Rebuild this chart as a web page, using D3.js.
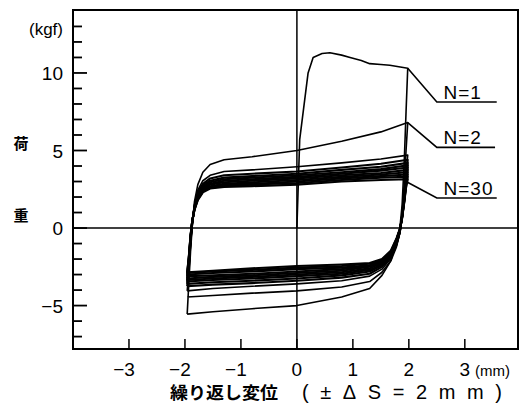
<!DOCTYPE html>
<html>
<head>
<meta charset="utf-8">
<script src="https://cdn.jsdelivr.net/npm/d3@7"></script>
<style>
  body { margin: 0; background: #fff; }
  text { font-family: "Liberation Sans", Arial, sans-serif; fill: #000; }
  .jp { font-family: "Noto Sans CJK JP", sans-serif; font-weight: bold; }
</style>
</head>
<body>
<div id="chart"></div>
<script>
// x grid of the reload branch (from -2 towards +2) and of the unload branch (from +2 towards -2)
let upX = [-1.96, -1.93, -1.9, -1.87, -1.83, -1.77, -1.68, -1.55, -1.3, -0.8, 0, 0.8, 1.5, 1.98];
let loX = [1.98, 1.95, 1.92, 1.88, 1.84, 1.78, 1.68, 1.52, 1.3, 0.8, 0, -0.8, -1.5, -1.96];

// first loading (N=1), from the origin
let firstX = [0, 0.05, 0.2, 0.29, 0.45, 0.59, 0.8, 0.95, 1.15, 1.3, 1.5, 1.66, 1.82, 1.98];
let firstF = [0, 5.7, 10.0, 11.0, 11.25, 11.3, 11.15, 11.0, 10.8, 10.6, 10.55, 10.5, 10.4, 10.3];

let cycles = [1, 2, 3, 4, 5, 6, 8, 11, 15, 20, 25, 30];

// load (kgf) on the reload branch, per cycle (cycle 1 uses the first loading)
let reload = [
  null,
  [-5.55, -3.5, -1.5, 0.1, 1.7, 2.8, 3.6, 4.1, 4.4, 4.6, 5.0, 5.6, 6.2, 6.8],
  [-4.05, -2.8, -1.0, 0.3, 1.5, 2.45, 3.05, 3.4, 3.65, 3.75, 3.95, 4.2, 4.45, 4.7],
  [-3.75, -2.6, -0.9, 0.3, 1.4, 2.3, 2.85, 3.2, 3.4, 3.5, 3.65, 3.9, 4.15, 4.4],
  [-3.6, -2.4, -0.8, 0.35, 1.35, 2.2, 2.75, 3.05, 3.25, 3.35, 3.5, 3.75, 3.95, 4.2],
  [-3.45, -2.3, -0.7, 0.4, 1.3, 2.1, 2.65, 2.95, 3.15, 3.25, 3.4, 3.6, 3.8, 4.05],
  [-3.35, -2.2, -0.7, 0.4, 1.3, 2.05, 2.55, 2.85, 3.05, 3.15, 3.3, 3.5, 3.7, 3.9],
  [-3.25, -2.1, -0.6, 0.4, 1.25, 2.0, 2.5, 2.8, 2.95, 3.05, 3.2, 3.4, 3.55, 3.75],
  [-3.1, -2.0, -0.6, 0.45, 1.25, 1.95, 2.45, 2.7, 2.85, 2.95, 3.1, 3.3, 3.45, 3.6],
  [-3.0, -1.9, -0.5, 0.45, 1.2, 1.9, 2.4, 2.65, 2.8, 2.85, 3.0, 3.2, 3.35, 3.45],
  [-2.9, -1.85, -0.5, 0.45, 1.2, 1.85, 2.35, 2.6, 2.7, 2.8, 2.9, 3.1, 3.25, 3.3],
  [-2.85, -1.8, -0.45, 0.45, 1.15, 1.8, 2.3, 2.55, 2.65, 2.7, 2.8, 3.0, 3.1, 3.15]
];

// load (kgf) on the unload branch, per cycle
let unload = [
  [10.3, 7.5, 4.5, 1.5, 0.0, -0.7, -2.1, -3.05, -3.9, -4.45, -5.0, -5.2, -5.4, -5.55],
  [6.8, 5.0, 3.0, 1.0, -0.3, -1.2, -2.1, -2.85, -3.45, -3.8, -4.05, -4.2, -4.35, -4.45],
  [4.7, 3.6, 2.3, 0.8, -0.3, -1.1, -1.95, -2.65, -3.1, -3.4, -3.6, -3.75, -3.9, -4.05],
  [4.4, 3.4, 2.2, 0.8, -0.25, -1.05, -1.85, -2.5, -2.95, -3.2, -3.4, -3.55, -3.65, -3.75],
  [4.2, 3.3, 2.1, 0.8, -0.2, -1.0, -1.8, -2.4, -2.8, -3.05, -3.25, -3.4, -3.5, -3.6],
  [4.05, 3.2, 2.0, 0.75, -0.2, -0.95, -1.75, -2.35, -2.7, -2.95, -3.1, -3.25, -3.35, -3.45],
  [3.9, 3.1, 1.95, 0.75, -0.15, -0.9, -1.7, -2.25, -2.6, -2.85, -3.0, -3.15, -3.25, -3.35],
  [3.75, 3.0, 1.9, 0.7, -0.15, -0.85, -1.65, -2.2, -2.5, -2.75, -2.9, -3.05, -3.15, -3.25],
  [3.6, 2.9, 1.85, 0.7, -0.1, -0.8, -1.6, -2.15, -2.45, -2.65, -2.8, -2.95, -3.05, -3.1],
  [3.45, 2.8, 1.8, 0.7, -0.1, -0.75, -1.55, -2.1, -2.4, -2.55, -2.65, -2.8, -2.9, -3.0],
  [3.3, 2.7, 1.75, 0.65, -0.1, -0.7, -1.5, -2.05, -2.3, -2.45, -2.55, -2.7, -2.8, -2.9],
  [3.15, 2.6, 1.7, 0.65, -0.05, -0.65, -1.45, -2.0, -2.25, -2.35, -2.45, -2.6, -2.75, -2.85]
];

// leader lines for the cycle labels: [start x, start f, knee x, f at label, end x]
let labelNames = ["N=1", "N=2", "N=30"];
let labelLeaders = [
  [1.98, 10.3, 2.5, 8.13, 3.57],
  [1.98, 6.8, 2.5, 5.2, 3.54],
  [1.9, 3.1, 2.5, 1.94, 3.57]
];

let xTicks = [-3, -2, -1, 0, 1, 2, 3];
let yMajor = [-5, 0, 5, 10];
let yMinor = d3.range(-7, 14);

let width = 530, height = 405;
let margin = {left: 73, right: 12, top: 10, bottom: 56};

let svg = d3.select("#chart").append("svg")
    .attr("width", width)
    .attr("height", height);

let x = d3.scaleLinear().domain([-4, 3.95]).range([margin.left, width - margin.right]);
let y = d3.scaleLinear().domain([-7.8, 14.06]).range([height - margin.bottom, margin.top]);

let line = d3.line()
    .x(function(d){ return x(d[0]); })
    .y(function(d){ return y(d[1]); })
    .curve(d3.curveLinear);

let plot = svg.append("g");

// frame
plot.append("rect")
    .attr("x", x(-4)).attr("y", y(14.06))
    .attr("width", x(3.95) - x(-4)).attr("height", y(-7.8) - y(14.06))
    .attr("fill", "none").attr("stroke", "#000").attr("stroke-width", 2);

// zero lines
plot.append("line")
    .attr("x1", x(0)).attr("x2", x(0)).attr("y1", y(14.06)).attr("y2", y(-7.8))
    .attr("stroke", "#000").attr("stroke-width", 1.5);
plot.append("line")
    .attr("x1", x(-4)).attr("x2", x(3.95)).attr("y1", y(0)).attr("y2", y(0))
    .attr("stroke", "#000").attr("stroke-width", 1.5);

// y ticks (inside)
plot.selectAll(".ytick").data(yMinor).enter().append("line")
    .attr("x1", x(-4))
    .attr("x2", function(d){ return x(-4) + (yMajor.indexOf(d) >= 0 ? 14 : 9); })
    .attr("y1", function(d){ return y(d); })
    .attr("y2", function(d){ return y(d); })
    .attr("stroke", "#000").attr("stroke-width", 1.8);

// x ticks (inside)
plot.selectAll(".xtick").data(xTicks).enter().append("line")
    .attr("x1", function(d){ return x(d); })
    .attr("x2", function(d){ return x(d); })
    .attr("y1", y(-7.8))
    .attr("y2", y(-7.8) - 10)
    .attr("stroke", "#000").attr("stroke-width", 1.5);

// hysteresis loops
let loops = plot.append("g").attr("fill", "none").attr("stroke", "#000")
    .attr("stroke-linejoin", "round");

cycles.forEach(function(n, i){
  let pts = [];
  if (i === 0) {
    firstX.forEach(function(v, j){ pts.push([v, firstF[j]]); });
  } else {
    upX.forEach(function(v, j){ pts.push([v, reload[i][j]]); });
  }
  loX.forEach(function(v, j){ pts.push([v, unload[i][j]]); });
  loops.append("path")
      .attr("d", line(pts))
      .attr("stroke-width", i < 3 ? 1.6 : 2.1);
});

// labels with leaders
labelLeaders.forEach(function(l, i){
  plot.append("path")
      .attr("d", line([[l[0], l[1]], [l[2], l[3]], [l[4], l[3]]]))
      .attr("fill", "none").attr("stroke", "#000").attr("stroke-width", 1.6);
  svg.append("text")
      .attr("x", x(2.62)).attr("y", y(l[3]) - 3)
      .attr("font-size", 19)
      .attr("letter-spacing", 1)
      .text(labelNames[i]);
});

// tick labels
svg.selectAll(".ylab").data(yMajor).enter().append("text")
    .attr("x", 63)
    .attr("y", function(d){ return y(d) + 7; })
    .attr("text-anchor", "end")
    .attr("font-size", 19)
    .text(function(d){ return d < 0 ? "\u2212" + Math.abs(d) : d; });

svg.selectAll(".xlab").data(xTicks).enter().append("text")
    .attr("x", function(d){ return d < 0 ? x(d) - 5 : x(d); })
    .attr("y", 376)
    .attr("text-anchor", "middle")
    .attr("font-size", 19)
    .text(function(d){ return d < 0 ? "\u2212" + Math.abs(d) : d; });

// units
svg.append("text").attr("x", 475).attr("y", 376)
    .attr("font-size", 15).text("(mm)");
svg.append("text").attr("x", 63).attr("y", 35).attr("text-anchor", "end")
    .attr("font-size", 17).text("(kgf)");

// axis titles
svg.append("text").attr("class", "jp").attr("x", 21).attr("y", 149)
    .attr("text-anchor", "middle").attr("font-size", 15).text("荷");
svg.append("text").attr("class", "jp").attr("x", 21).attr("y", 221)
    .attr("text-anchor", "middle").attr("font-size", 15).text("重");
svg.append("text").attr("class", "jp").attr("x", 170).attr("y", 399)
    .attr("font-size", 17).attr("textLength", 108).attr("lengthAdjust", "spacingAndGlyphs")
    .text("繰り返し変位");
svg.append("text").attr("x", 302).attr("y", 399)
    .attr("font-size", 20)
    .attr("textLength", 200).attr("lengthAdjust", "spacing")
    .text("(±ΔS=2mm)");
</script>
</body>
</html>
